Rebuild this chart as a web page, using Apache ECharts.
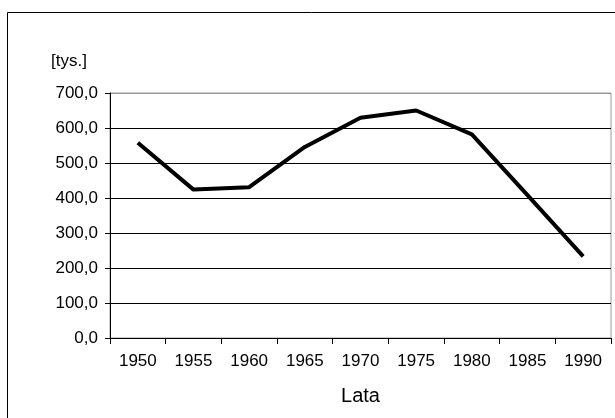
<!DOCTYPE html>
<html>

	<head>
		<meta charset="UTF-8">
		<title>Lata</title>
		<script type="text/javascript" src="https://cdn.jsdelivr.net/npm/echarts@6/dist/echarts.min.js"></script>
		<style>
			html,
			body {
				margin: 0;
				padding: 0;
				background: #fff;
			}
			
			#chart {
				width: 615px;
				height: 418px;
			}
		</style>
	</head>

	<body>
		<div id="chart"></div>
	</body>
	<script>
		// dane z wykresu
		var lata = ['1950', '1955', '1960', '1965', '1970', '1975', '1980', '1985', '1990']
		var wartosci = [558, 424, 431, 546, 629, 650, 582, 408, 233]
		var osY = [0, 100, 200, 300, 400, 500, 600, 700]

		var font = 'Liberation Sans, Arial, sans-serif'
		var myChart = echarts.init(document.getElementById('chart'))
		myChart.setOption({
			animation: false,
			backgroundColor: '#fff',
			grid: {
				left: 110,
				right: 4,
				top: 93,
				bottom: 80,
				show: true,
				borderColor: '#999',
				borderWidth: 1
			},
			graphic: [{
				type: 'rect',
				shape: { x: 7.5, y: 12.5, width: 700, height: 500 },
				style: { fill: 'none', stroke: '#000', lineWidth: 1 },
				silent: true
			}, {
				type: 'text',
				left: 51,
				top: 53,
				style: { text: '[tys.]', font: '17px ' + font, fill: '#000' }
			}],
			xAxis: {
				type: 'category',
				data: lata,
				boundaryGap: true,
				name: 'Lata',
				nameLocation: 'middle',
				nameGap: 48,
				nameTextStyle: { fontSize: 20, fontFamily: font, color: '#000' },
				axisLine: { lineStyle: { color: '#000', width: 1 } },
				axisTick: { show: true, length: 6, lineStyle: { color: '#000' } },
				axisLabel: { margin: 15, fontSize: 17, fontFamily: font, color: '#000' },
				splitLine: { show: false }
			},
			yAxis: {
				type: 'value',
				min: osY[0],
				max: osY[osY.length - 1],
				interval: 100,
				axisLine: { show: true, lineStyle: { color: '#000', width: 1 } },
				axisTick: { show: true, length: 5, lineStyle: { color: '#000' } },
				axisLabel: {
					margin: 12,
					fontSize: 17,
					fontFamily: font,
					color: '#000',
					formatter: function(v) {
						return v.toFixed(1).replace('.', ',')
					}
				},
				splitLine: {
					show: true,
					lineStyle: { color: ['#000', '#000', '#000', '#000', '#000', '#000', '#000', '#999'], width: 1 }
				}
			},
			series: [{
				type: 'line',
				data: wartosci,
				showSymbol: false,
				symbol: 'none',
				lineStyle: { color: '#000', width: 4 },
				itemStyle: { color: '#000' }
			}]
		})
	</script>

</html>
